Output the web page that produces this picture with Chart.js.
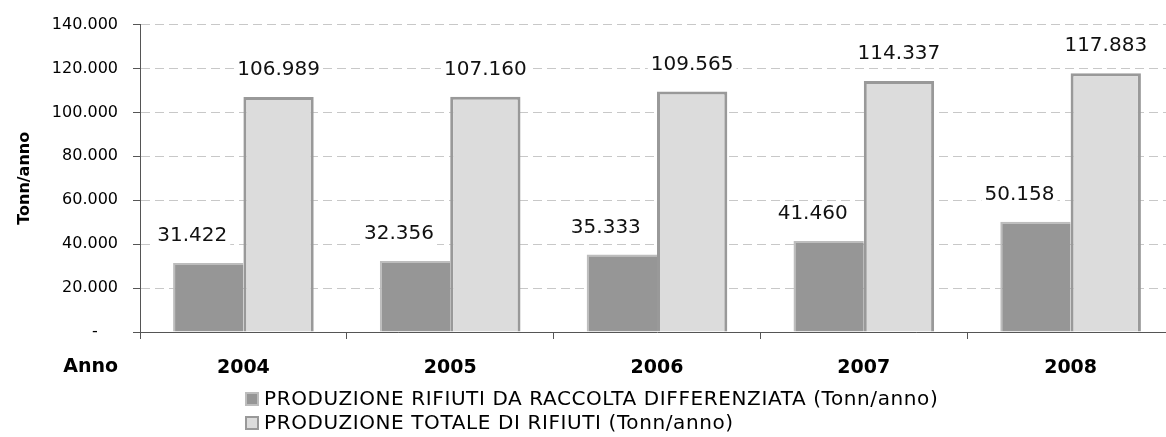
<!DOCTYPE html>
<html>
<head>
<meta charset="utf-8">
<script src="https://cdn.jsdelivr.net/npm/chart.js@4/dist/chart.umd.min.js"></script>
<style>
  html, body { margin: 0; padding: 0; background: #fff; }
  #wrap { width: 1166px; height: 437px; overflow: hidden; }
</style>
</head>
<body>
<div id="wrap"><canvas id="chart" width="1176" height="437"></canvas></div>
<script>
// data
const years = ['2004', '2005', '2006', '2007', '2008'];
const differenziata = [31422, 32356, 35333, 41460, 50158];
const totale = [106989, 107160, 109565, 114337, 117883];
const seriesNames = [
    'PRODUZIONE RIFIUTI DA RACCOLTA DIFFERENZIATA (Tonn/anno)',
    'PRODUZIONE TOTALE DI RIFIUTI (Tonn/anno)'
];
const yTicks = [0, 20000, 40000, 60000, 80000, 100000, 120000, 140000];

const FONT = '"DejaVu Sans", Verdana, sans-serif';

function fmt(v) {
    return String(v).replace(/\B(?=(\d{3})+(?!\d))/g, '.');
}

// value labels with white box behind, "Anno" label and a two-row legend
const extras = {
    id: 'extras',
    afterDatasetsDraw(chart) {
        const ctx = chart.ctx;
        ctx.save();
        ctx.font = '20px ' + FONT;
        ctx.textAlign = 'center';
        ctx.textBaseline = 'middle';
        chart.data.datasets.forEach((ds, di) => {
            chart.getDatasetMeta(di).data.forEach((bar, i) => {
                const txt = fmt(ds.data[i]);
                const x = bar.x + (di === 0 ? -16 : 0);
                const y = bar.y - 27;
                const w = ctx.measureText(txt).width;
                ctx.fillStyle = '#fff';
                ctx.fillRect(x - w / 2 - 3, y - 12, w + 6, 24);
                ctx.fillStyle = '#111';
                ctx.fillText(txt, x, y);
            });
        });
        ctx.restore();
    },
    afterDraw(chart) {
        const ctx = chart.ctx;
        ctx.save();
        ctx.fillStyle = '#000';
        ctx.font = 'bold 19px ' + FONT;
        ctx.textAlign = 'right';
        ctx.textBaseline = 'middle';
        ctx.fillText('Anno', 118, 367);

        const fills = ['#969696', '#dcdcdc'];
        const borders = ['#bdbdbd', '#999999'];
        ctx.font = '20px ' + FONT;
        ctx.textAlign = 'left';
        if ('letterSpacing' in ctx) ctx.letterSpacing = '0.6px';
        seriesNames.forEach((name, i) => {
            const top = 392 + i * 24;
            ctx.fillStyle = fills[i];
            ctx.fillRect(245, top, 14, 14);
            ctx.strokeStyle = borders[i];
            ctx.lineWidth = 2;
            ctx.strokeRect(246, top + 1, 12, 12);
            ctx.fillStyle = '#000';
            ctx.fillText(name, 264, top + 8);
        });
        ctx.restore();
    }
};

new Chart(document.getElementById('chart'), {
    type: 'bar',
    data: {
        labels: years,
        datasets: [{
            label: seriesNames[0],
            data: differenziata,
            backgroundColor: '#969696',
            borderColor: '#bdbdbd',
            borderWidth: { top: 2, left: 2, right: 0, bottom: 0 }
        }, {
            label: seriesNames[1],
            data: totale,
            backgroundColor: '#dcdcdc',
            borderColor: '#999999',
            borderWidth: 3
        }]
    },
    options: {
        responsive: false,
        animation: false,
        categoryPercentage: 0.68,
        barPercentage: 1.0,
        layout: { padding: { top: 23, right: 2, bottom: 0, left: 0 } },
        plugins: {
            legend: { display: false },
            tooltip: { enabled: false }
        },
        scales: {
            x: {
                grid: { drawOnChartArea: false, offset: true, tickLength: 7, tickColor: '#555' },
                border: { color: '#555' },
                ticks: { color: '#000', font: { family: FONT, size: 19, weight: 'bold' }, padding: 18 },
                afterFit: (scale) => { scale.height = 105; }
            },
            y: {
                min: 0,
                max: 140000,
                afterBuildTicks: (scale) => { scale.ticks = yTicks.map(v => ({ value: v })); },
                ticks: {
                    color: '#000',
                    font: { family: FONT, size: 16 },
                    padding: 15,
                    callback: (v) => v === 0 ? '-    ' : fmt(v)
                },
                grid: { color: '#c8c8c8', tickColor: '#555', tickLength: 7, tickBorderDash: [] },
                border: { color: '#555', dash: [9, 5] },
                title: {
                    display: true,
                    text: 'Tonn/anno',
                    color: '#000',
                    font: { family: FONT, size: 16, weight: 'bold' },
                    padding: { top: 15, bottom: 0 }
                },
                afterFit: (scale) => { scale.width = 140; }
            }
        }
    },
    plugins: [extras]
});
</script>
</body>
</html>
